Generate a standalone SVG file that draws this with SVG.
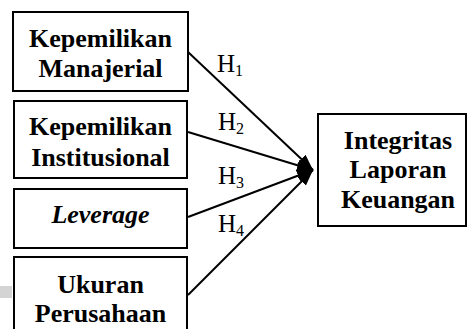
<svg xmlns="http://www.w3.org/2000/svg" width="469" height="329" viewBox="0 0 469 329">
<style>
.box{fill:#fff;stroke:#000;stroke-width:2}
.t{font-family:"Liberation Serif","Times New Roman",serif;font-size:26px;font-weight:bold;text-anchor:middle;fill:#000}
.h{font-family:"Liberation Serif","Times New Roman",serif;font-size:25px;fill:#000}
.s{font-size:16px}
.ln{stroke:#000;stroke-width:2;fill:none;marker-end:url(#ah)}
</style>
<defs>
<marker id="ah" markerUnits="userSpaceOnUse" viewBox="0 0 16 12" refX="16" refY="6" markerWidth="16" markerHeight="12" orient="auto">
<path d="M0,0 L16,6 L0,12 z" fill="#000"/>
</marker>
</defs>
<rect x="0" y="286" width="12" height="12" fill="#d4d4d4"/>
<g id="connectors">
<line class="ln" x1="188" y1="52" x2="313" y2="170"/>
<line class="ln" x1="188" y1="132" x2="313" y2="170"/>
<line class="ln" x1="188" y1="217" x2="313" y2="170"/>
<line class="ln" x1="188" y1="295" x2="313" y2="170"/>
<text class="h" x="217" y="72">H<tspan class="s" dy="4">1</tspan></text>
<text class="h" x="218" y="130">H<tspan class="s" dy="4">2</tspan></text>
<text class="h" x="218" y="184">H<tspan class="s" dy="4">3</tspan></text>
<text class="h" x="218" y="232">H<tspan class="s" dy="4">4</tspan></text>
</g>
<g id="n1">
<rect class="box" x="13" y="12" width="175" height="79"/>
<text class="t" x="100.5" y="47">Kepemilikan</text>
<text class="t" x="100.5" y="77">Manajerial</text>
</g>
<g id="n2">
<rect class="box" x="14" y="101" width="173" height="77"/>
<text class="t" x="100.5" y="135">Kepemilikan</text>
<text class="t" x="100.5" y="166">Institusional</text>
</g>
<g id="n3">
<rect class="box" x="14" y="189" width="173" height="59"/>
<text class="t" x="100.5" y="223" font-style="italic">Leverage</text>
</g>
<g id="n4">
<rect class="box" x="14" y="257" width="173" height="80"/>
<text class="t" x="100.5" y="293">Ukuran</text>
<text class="t" x="100.5" y="322">Perusahaan</text>
</g>
<g id="n5">
<rect class="box" x="318" y="114" width="148" height="112"/>
<text class="t" x="398" y="149">Integritas</text>
<text class="t" x="398" y="178">Laporan</text>
<text class="t" x="398" y="208">Keuangan</text>
</g>
</svg>
